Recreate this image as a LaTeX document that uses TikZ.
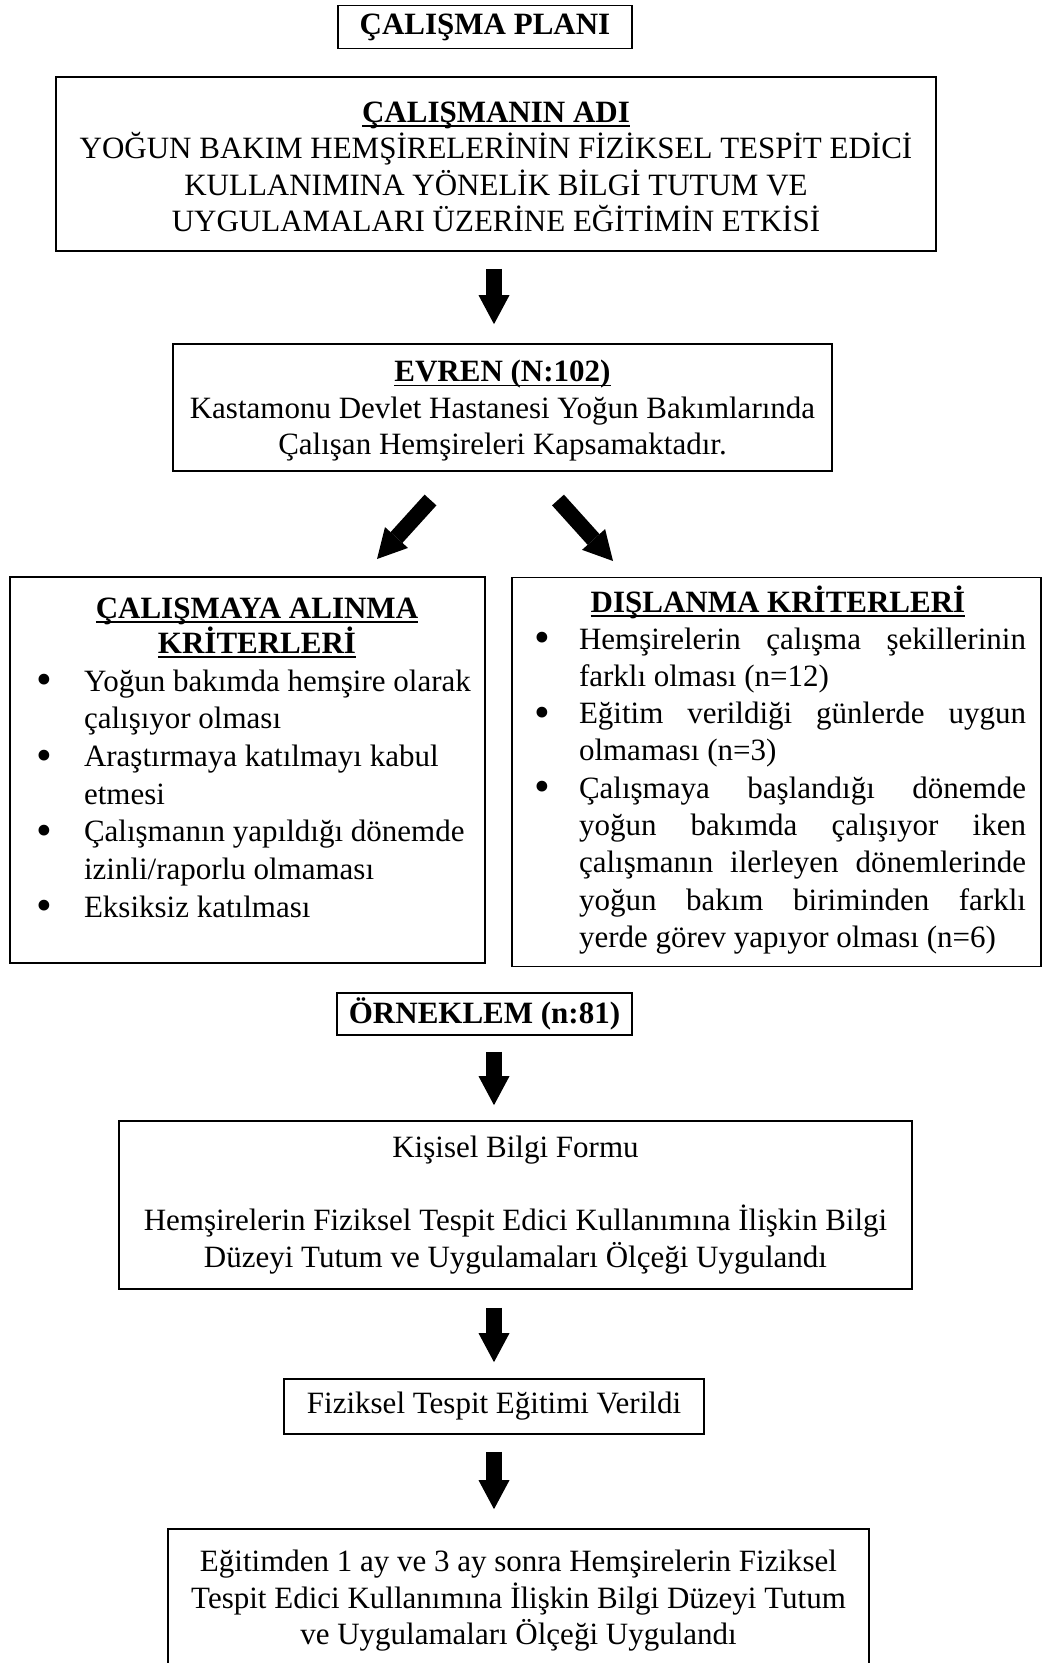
\documentclass[tikz,border=0pt]{standalone}
\usepackage{fontspec}
\setmainfont{Liberation Serif}
\usetikzlibrary{arrows.meta}
\newcommand{\fs}{\fontsize{31}{36.5}\selectfont}
\newcommand{\myul}[1]{\leavevmode\setbox0=\hbox{#1}\rlap{\rule[-4.5pt]{\wd0}{1.7pt}}\box0}
\newcommand{\bigdot}{\raisebox{-3.6pt}{\scalebox{1.45}{\textbullet}}}
\newcommand{\bitem}[2]{\par\hangindent=#1\hangafter=1\noindent\makebox[#1][l]{\bigdot}#2}
\tikzset{
  box/.style={draw, line width=1.7pt, inner sep=0pt, align=center, font=\fs},
  txt/.style={inner sep=0pt, align=center, font=\fs},
  bigarrow/.style={line width=16pt, -{Triangle[width=31pt,length=29pt,line width=0pt]}},
  inner/.style={inner sep=0pt, outer sep=0pt}
}
\begin{document}
\begin{tikzpicture}[x=1pt,y=-1pt]
\useasboundingbox (0,0) rectangle (1044,1663);
% boxes
\node[box, font=\fs\bfseries, minimum width=294pt, minimum height=43pt] (title) at (485,27) {ÇALIŞMA PLANI};
\node[box, minimum width=880pt, minimum height=174pt] (adi) at (496,164) {};
\node[txt] (adiT) at (496,167)
  {\textbf{\myul{ÇALIŞMANIN ADI}}\\YOĞUN BAKIM HEMŞİRELERİNİN FİZİKSEL TESPİT EDİCİ\\KULLANIMINA YÖNELİK BİLGİ TUTUM VE\\UYGULAMALARI ÜZERİNE EĞİTİMİN ETKİSİ};
\node[box, minimum width=659pt, minimum height=127pt] (evren) at (502.5,407.5) {};
\node[txt] (evrenT) at (502.5,411)
  {\textbf{\myul{EVREN (N:102)}}\\Kastamonu Devlet Hastanesi Yoğun Bakımlarında\\Çalışan Hemşireleri Kapsamaktadır.};
\node[box, minimum width=475pt, minimum height=386pt] (dahil) at (247.5,770) {};
\node[box, minimum width=529pt, minimum height=389pt] (disla) at (776.5,772) {};
\node[inner, anchor=base] (dahilT) at (257,618)
  {\parbox[t]{440pt}{\centering\fontsize{31}{35}\selectfont\bfseries\myul{ÇALIŞMAYA ALINMA}\\\myul{KRİTERLERİ}}};
\node[inner, anchor=base west] (dahilL) at (36,691)
  {\parbox[t]{445pt}{\fontsize{31}{37.7}\selectfont\raggedright
   \bitem{48pt}{Yoğun bakımda hemşire olarak\newline çalışıyor olması}
   \bitem{48pt}{Araştırmaya katılmayı kabul\newline etmesi}
   \bitem{48pt}{Çalışmanın yapıldığı dönemde\newline izinli/raporlu olmaması}
   \bitem{48pt}{Eksiksiz katılması}\par}};
\node[inner, anchor=base] (dislaT) at (778,612)
  {\textbf{\fs\myul{DIŞLANMA KRİTERLERİ}}};
\node[inner, anchor=base west] (dislaL) at (534,649)
  {\parbox[t]{492pt}{\fontsize{31}{37.3}\selectfont\tolerance=10000\hbadness=10000
   \bitem{45pt}{Hemşirelerin çalışma şekillerinin\linebreak farklı olması (n=12)}
   \bitem{45pt}{Eğitim verildiği günlerde uygun\linebreak olmaması (n=3)}
   \bitem{45pt}{Çalışmaya başlandığı dönemde\linebreak yoğun bakımda çalışıyor iken\linebreak çalışmanın ilerleyen dönemlerinde\linebreak yoğun bakım biriminden farklı\linebreak yerde görev yapıyor olması (n=6)}\par}};
\node[box, font=\fs\bfseries, minimum width=295pt, minimum height=42pt] (orneklem) at (484.5,1014) {ÖRNEKLEM (n:81)};
\node[box, minimum width=793pt, minimum height=168pt] (form) at (515.5,1205)
  {Kişisel Bilgi Formu\\~\\Hemşirelerin Fiziksel Tespit Edici Kullanımına İlişkin Bilgi\\Düzeyi Tutum ve Uygulamaları Ölçeği Uygulandı};
\node[box, minimum width=420pt, minimum height=55pt] (egitim) at (494,1406.5) {Fiziksel Tespit Eğitimi Verildi};
\node[box, minimum width=701pt, minimum height=144pt] (son) at (518.5,1601)
  {Eğitimden 1 ay ve 3 ay sonra Hemşirelerin Fiziksel\\Tespit Edici Kullanımına İlişkin Bilgi Düzeyi Tutum\\ve Uygulamaları Ölçeği Uygulandı};
% arrows
\coordinate (ax) at (494,0);
\draw[bigarrow, shorten <=17pt, shorten >=19pt] (adi.south -| ax) -- (evren.north -| ax);
\coordinate (l1) at (430.5,500);
\coordinate (l2) at (377,559);
\coordinate (r1) at (558,500);
\coordinate (r2) at (613,561);
\draw[bigarrow] (l1) -- (l2);
\draw[bigarrow] (r1) -- (r2);
\draw[bigarrow, shorten <=16pt, shorten >=15pt] (orneklem.south -| ax) -- (form.north -| ax);
\draw[bigarrow, shorten <=18pt, shorten >=16pt] (form.south -| ax) -- (egitim.north -| ax);
\draw[bigarrow, shorten <=17pt, shorten >=19pt] (egitim.south -| ax) -- (son.north -| ax);
\end{tikzpicture}
\end{document}
